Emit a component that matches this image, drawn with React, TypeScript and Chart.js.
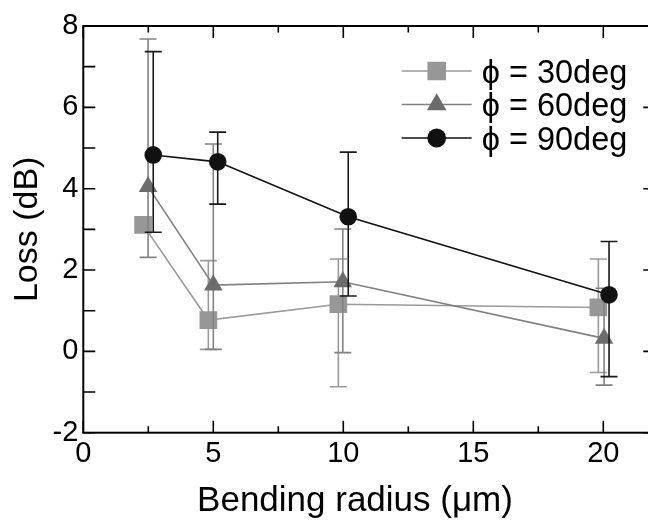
import React, { useEffect, useRef } from "react";
import { Chart, registerables } from "chart.js";
import { drawPoint } from "chart.js/helpers";

Chart.register(...registerables);

const FONT = "'Liberation Sans', Arial, Helvetica, sans-serif";

// ---- data ----
const seriesNames = ["ϕ = 30deg", "ϕ = 60deg", "ϕ = 90deg"];
const xTitle = "Bending radius (μm)";
const yTitle = "Loss (dB)";

const x30 = [2.3, 4.81, 9.81, 19.81];
const y30 = [3.11, 0.77, 1.16, 1.08];
const hi30: (number | null)[] = [null, 2.23, 2.27, 2.27];
const lo30: (number | null)[] = [null, 0.05, -0.87, -0.52];

const x60 = [2.49, 5.0, 9.98, 20.03];
const y60 = [4.05, 1.63, 1.71, 0.32];
const hi60: (number | null)[] = [7.68, 5.1, 3.01, 1.55];
const lo60: (number | null)[] = [2.31, 0.05, -0.03, -0.83];

const x90 = [2.69, 5.17, 10.19, 20.22];
const y90 = [4.83, 4.66, 3.31, 1.39];
const hi90: (number | null)[] = [7.37, 5.39, 4.9, 2.7];
const lo90: (number | null)[] = [2.93, 3.62, 1.36, -0.62];

const xTicks = [0, 5, 10, 15, 20];
const xMinorTicks = [2.5, 7.5, 12.5, 17.5];
const yTicks = [-2, 0, 2, 4, 6, 8];
const yMinorTicks = [-1, 1, 3, 5, 7];

// ---- styles ----
const lineColors = ["#9a9a9a", "#808080", "#111111"];
const markerColors = ["#979797", "#6c6c6c", "#111111"];
const errColors = ["#9a9a9a", "#828282", "#1a1a1a"];
const pointStyles = ["rect", "triangle", "circle"];
const pointRadii = [12.5, 10.7, 8.8];

const xs = [x30, x60, x90];
const ys = [y30, y60, y90];
const his = [hi30, hi60, hi90];
const los = [lo30, lo60, lo90];

const errorBarPlugin = {
  id: "errorBars",
  beforeDatasetDraw(chart: any, args: any) {
    const i = args.index;
    const ctx = chart.ctx;
    const xS = chart.scales.x;
    const yS = chart.scales.y;
    ctx.save();
    ctx.strokeStyle = errColors[i];
    ctx.lineWidth = 1.6;
    const cap = 8.5;
    xs[i].forEach((xv, j) => {
      const h = his[i][j];
      const l = los[i][j];
      if (h === null || l === null) return;
      const px = xS.getPixelForValue(xv);
      const pt = yS.getPixelForValue(h);
      const pb = yS.getPixelForValue(l);
      ctx.beginPath();
      ctx.moveTo(px, pt);
      ctx.lineTo(px, pb);
      ctx.moveTo(px - cap, pt);
      ctx.lineTo(px + cap, pt);
      ctx.moveTo(px - cap, pb);
      ctx.lineTo(px + cap, pb);
      ctx.stroke();
    });
    ctx.restore();
  },
};

const framePlugin = {
  id: "frame",
  afterDraw(chart: any) {
    const ctx = chart.ctx;
    const { left, right, top, bottom } = chart.chartArea;
    const xS = chart.scales.x;
    const yS = chart.scales.y;
    ctx.save();
    ctx.strokeStyle = "#000";
    ctx.lineWidth = 1.6;
    ctx.beginPath();
    xTicks.forEach((v) => {
      const p = xS.getPixelForValue(v);
      ctx.moveTo(p, bottom);
      ctx.lineTo(p, bottom - 12);
      ctx.moveTo(p, top);
      ctx.lineTo(p, top + 12);
    });
    xMinorTicks.forEach((v) => {
      const p = xS.getPixelForValue(v);
      ctx.moveTo(p, bottom);
      ctx.lineTo(p, bottom - 6.5);
      ctx.moveTo(p, top);
      ctx.lineTo(p, top + 6.5);
    });
    yTicks.forEach((v) => {
      const p = yS.getPixelForValue(v);
      ctx.moveTo(left, p);
      ctx.lineTo(left + 12, p);
      ctx.moveTo(right, p);
      ctx.lineTo(right - 12, p);
    });
    yMinorTicks.forEach((v) => {
      const p = yS.getPixelForValue(v);
      ctx.moveTo(left, p);
      ctx.lineTo(left + 12, p);
      ctx.moveTo(right, p);
      ctx.lineTo(right - 6, p);
    });
    ctx.stroke();
    ctx.lineWidth = 2;
    ctx.strokeRect(left, top, right - left, bottom - top);
    ctx.restore();

    // axis titles
    ctx.save();
    ctx.fillStyle = "#000";
    ctx.font = `35px ${FONT}`;
    ctx.textAlign = "center";
    ctx.textBaseline = "alphabetic";
    ctx.fillText(xTitle, 355, 511);
    ctx.translate(37, (top + bottom) / 2);
    ctx.rotate(-Math.PI / 2);
    ctx.font = `34px ${FONT}`;
    ctx.fillText(yTitle, 0, 0);
    ctx.restore();

    // legend
    const rows = [71, 104.5, 138];
    const textRows = [74.5, 107.5, 140.8];
    const lx0 = 401.7;
    const lx1 = 471.7;
    const mx = 436.7;
    ctx.save();
    for (let i = 0; i < 3; i++) {
      ctx.strokeStyle = lineColors[i];
      ctx.lineWidth = 1.6;
      ctx.beginPath();
      ctx.moveTo(lx0, rows[i]);
      ctx.lineTo(lx1, rows[i]);
      ctx.stroke();
      ctx.fillStyle = markerColors[i];
      ctx.strokeStyle = markerColors[i];
      drawPoint(ctx, { pointStyle: pointStyles[i], radius: pointRadii[i] + 0.6, rotation: 0, borderWidth: 0 } as any, mx, rows[i]);
      ctx.fillStyle = "#000";
      ctx.font = `32.5px ${FONT}`;
      ctx.textAlign = "left";
      ctx.textBaseline = "middle";
      ctx.fillText(seriesNames[i], 481.7, textRows[i]);
    }
    ctx.restore();
  },
};

export default function App() {
  const ref = useRef<HTMLCanvasElement | null>(null);

  useEffect(() => {
    const prevMargin = document.body.style.margin;
    document.body.style.margin = "0";
    const canvas = ref.current!;
    const datasets = [0, 1, 2].map((i) => ({
      label: seriesNames[i],
      data: xs[i].map((xv, j) => ({ x: xv, y: ys[i][j] })),
      showLine: true,
      borderColor: lineColors[i],
      borderWidth: 1.6,
      pointStyle: pointStyles[i],
      pointRadius: pointRadii[i],
      pointBackgroundColor: markerColors[i],
      pointBorderColor: markerColors[i],
      pointBorderWidth: 0,
      order: 3 - i,
    }));

    const chart = new Chart(canvas, {
      type: "scatter",
      data: { datasets },
      options: {
        responsive: false,
        animation: false,
        events: [],
        layout: { padding: { top: 26, right: 670 - 655.3, left: 0, bottom: 0 } },
        plugins: {
          legend: { display: false },
          tooltip: { enabled: false },
        },
        scales: {
          x: {
            type: "linear",
            min: 0,
            max: 22,
            afterBuildTicks: (s: any) => {
              s.ticks = xTicks.map((v) => ({ value: v }));
            },
            afterFit: (s: any) => {
              s.height = 89.3;
            },
            ticks: {
              color: "#000",
              font: { family: FONT, size: 29 },
              padding: 4,
              maxRotation: 0,
              autoSkip: false,
            },
            grid: { display: false, drawTicks: false },
            border: { display: false },
            title: { display: false },
          },
          y: {
            type: "linear",
            min: -2,
            max: 8,
            afterBuildTicks: (s: any) => {
              s.ticks = yTicks.map((v) => ({ value: v }));
            },
            afterFit: (s: any) => {
              s.width = 83.3;
            },
            ticks: {
              color: "#000",
              font: { family: FONT, size: 29 },
              padding: 5,
              autoSkip: false,
            },
            grid: { display: false, drawTicks: false },
            border: { display: false },
            title: { display: false },
          },
        },
      },
      plugins: [errorBarPlugin, framePlugin],
    } as any);

    return () => {
      chart.destroy();
      document.body.style.margin = prevMargin;
    };
  }, []);

  return (
    <div
      style={{
        position: "fixed",
        left: 0,
        top: 0,
        width: 648,
        height: 522,
        overflow: "hidden",
        background: "#fff",
      }}
    >
      <canvas ref={ref} width={670} height={522} style={{ display: "block" }} />
    </div>
  );
}
